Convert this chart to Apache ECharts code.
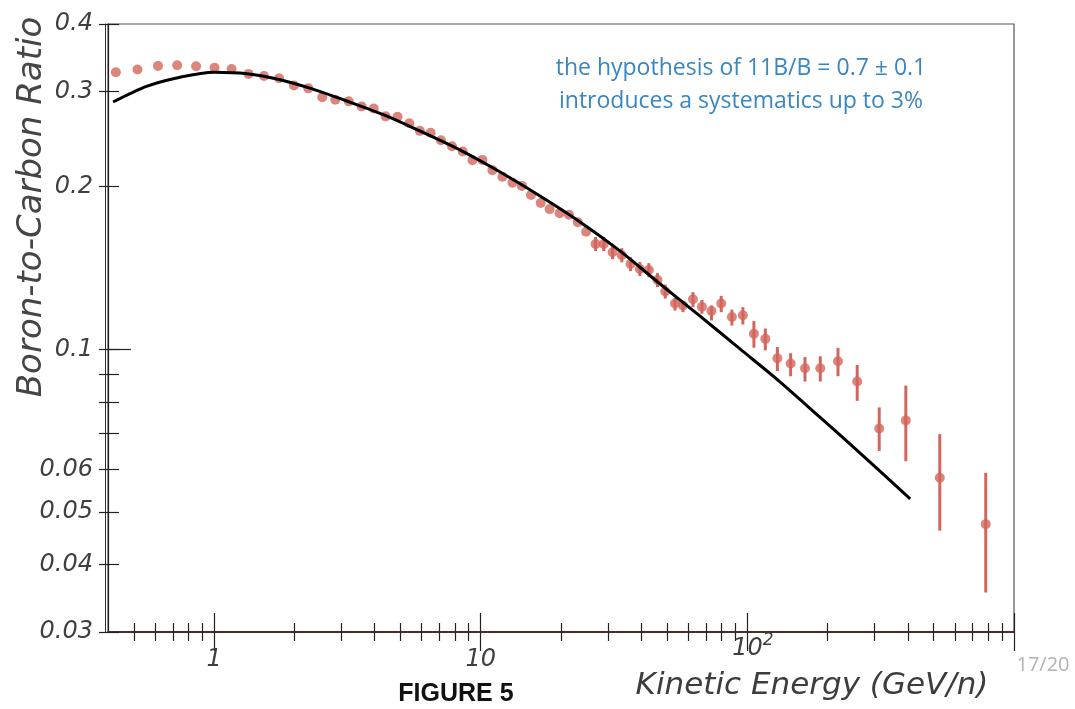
<!DOCTYPE html>
<html><head><meta charset="utf-8">
<script src="https://cdn.jsdelivr.net/npm/echarts@6/dist/echarts.min.js"></script>
<style>html,body{margin:0;padding:0;background:#fff}#c{width:1075px;height:709px}</style>
</head><body><div id="c"></div>
<script>
// ---- data ----
const energy = [0.428,0.516,0.616,0.727,0.856,1.004,1.163,1.346,1.539,1.752,
  1.993,2.256,2.545,2.847,3.198,3.577,3.967,4.400,4.875,5.398,
  5.909,6.486,7.095,7.801,8.563,9.310,10.15,11.06,12.06,13.15,
  14.27,15.43,16.78,18.13,19.77,21.42,23.12,24.84,26.96,28.93,
  31.22,33.82,36.46,39.51,42.69,46.03,49.22,53.53,57.33,62.51,
  67.54,73.33,79.79,87.50,96.18,105.8,116.8,129.6,145.3,164.5,
  187.7,218.7,258.2,312.2,392.9,526.8,783.4];
const ratio = [0.3257,0.3295,0.3346,0.3356,0.3342,0.3320,0.3302,0.3234,0.3206,0.3175,
  0.3078,0.3041,0.2927,0.2896,0.2877,0.2814,0.2790,0.2699,0.2694,0.2620,
  0.2537,0.2516,0.2438,0.2376,0.2324,0.2239,0.2242,0.2146,0.2087,0.2035,
  0.2007,0.1930,0.1866,0.1818,0.1787,0.1775,0.1719,0.1651,0.1567,0.1567,
  0.1513,0.1494,0.1439,0.1409,0.1402,0.1344,0.1280,0.1216,0.1206,0.1238,
  0.1199,0.1178,0.1216,0.1148,0.1157,0.1069,0.1046,0.0963,0.0942,0.0923,
  0.0923,0.0951,0.0872,0.0714,0.0739,0.0579,0.0475];
const errLow = [null,null,null,null,null,null,null,null,null,null,
  null,null,null,null,null,null,null,null,null,null,
  null,null,null,null,null,null,null,null,null,null,
  null,null,null,null,null,null,null,null,0.1520,0.1520,
  0.1468,0.1449,0.1396,0.1367,0.1360,0.1304,0.1242,0.1180,0.1172,0.1197,
  0.1164,0.1131,0.1172,0.1107,0.1112,0.1007,0.0996,0.0912,0.0892,0.0872,
  0.0872,0.0892,0.0803,0.0649,0.0621,0.0462,0.0355];
const errHigh = [null,null,null,null,null,null,null,null,null,null,
  null,null,null,null,null,null,null,null,null,null,
  null,null,null,null,null,null,null,null,null,null,
  null,null,null,null,null,null,null,null,0.1614,0.1614,
  0.1558,0.1539,0.1482,0.1451,0.1444,0.1384,0.1318,0.1245,0.1228,0.1276,
  0.1235,0.1206,0.1256,0.1185,0.1197,0.1128,0.1093,0.1010,0.0984,0.0968,
  0.0971,0.1007,0.0936,0.0781,0.0857,0.0697,0.0591];
const modelEnergy = [0.418,0.561,0.746,1.0,1.329,1.767,2.349,3.149,4.446,5.909,8.344,
  11.78,16.63,23.49,33.17,46.83,66.12,93.33,131.8,186.1,262.8,407.9];
const modelRatio = [0.2869,0.3070,0.3189,0.3257,0.3236,0.3155,0.3031,0.2881,0.2702,0.2536,0.2339,
  0.2131,0.1924,0.1723,0.1523,0.1324,0.1155,0.1004,0.0873,0.0751,0.0645,0.0529];

const xMajorTicks = [1, 10, 100, 1000];
const xMinorTicks = [0.5,0.6,0.7,0.8,0.9, 2,3,4,5,6,7,8,9, 20,30,40,50,60,70,80,90, 200,300,400,500,600,700,800,900];
const xLabelValues = [1, 10];
const xLabelTexts = ['1', '10'];
const xPowLabelValues = [100];
const xPowLabelBase = ['10'];
const xPowLabelExp = ['2'];
const yLabelValues = [0.03, 0.04, 0.05, 0.06, 0.1, 0.2, 0.3, 0.4];
const yLabelTexts = ['0.03', '0.04', '0.05', '0.06', '0.1', '0.2', '0.3', '0.4'];
const yMinorTicks = [0.07, 0.08, 0.09];
const yLongTicks = [0.1];

const xTitle = 'Kinetic Energy (GeV/n)';
const yTitle = 'Boron-to-Carbon Ratio';
const noteLines = ['the hypothesis of 11B/B = 0.7 \u00b1 0.1', 'introduces a systematics up to 3%'];
const figureLabel = 'FIGURE 5';
const pageLabel = '17/20';

// ---- chart ----
const AX_FONT = '"DejaVu Sans"';
const AX_COLOR = '#3f3f3f';
const DOT = '#d3665c';
function lookup(vals, texts, v) {
  for (let i = 0; i < vals.length; i++) if (Math.abs(v - vals[i]) / vals[i] < 1e-6) return texts[i];
  return '';
}
const xBase = { type: 'log', logBase: 10, min: 0.4, max: 1000, gridIndex: 0, splitLine: { show: false }, position: 'bottom' };
const yBase = { type: 'log', logBase: 10, min: 0.03, max: 0.4, gridIndex: 0, splitLine: { show: false }, position: 'left' };
const noLine = { show: false };
const tickLine = { color: '#222', width: 1.2 };

const chart = echarts.init(document.getElementById('c'), null, { renderer: 'canvas' });
const option = {
  animation: false,
  backgroundColor: '#fff',
  grid: { left: 108, top: 24, width: 906, height: 608, show: true, borderColor: '#555', borderWidth: 1.2, backgroundColor: 'transparent' },
  xAxis: [
    Object.assign({}, xBase, { axisLine: { show: true, lineStyle: { color: '#4a2e2e', width: 1.8 } },
      axisTick: { show: true, inside: false, length: 9, lineStyle: tickLine, customValues: xMinorTicks },
      axisLabel: { show: false } }),
    Object.assign({}, xBase, { axisLine: noLine,
      axisTick: { show: true, inside: true, length: 9, lineStyle: tickLine, customValues: xMinorTicks },
      axisLabel: { show: false } }),
    Object.assign({}, xBase, { axisLine: noLine,
      axisTick: { show: true, inside: false, length: 19, lineStyle: tickLine, customValues: xMajorTicks },
      axisLabel: { show: true, customValues: xLabelValues, margin: 16, color: AX_COLOR,
        fontFamily: AX_FONT, fontStyle: 'italic', fontSize: 24,
        formatter: v => lookup(xLabelValues, xLabelTexts, v) } }),
    Object.assign({}, xBase, { axisLine: noLine,
      axisTick: { show: true, inside: true, length: 19, lineStyle: tickLine, customValues: xMajorTicks },
      axisLabel: { show: true, customValues: xPowLabelValues, margin: 0, color: AX_COLOR,
        formatter: v => '{b|' + lookup(xPowLabelValues, xPowLabelBase, v) + '}{e|' + lookup(xPowLabelValues, xPowLabelExp, v) + '}',
        rich: {
          b: { fontFamily: AX_FONT, fontStyle: 'italic', fontSize: 24, color: AX_COLOR, lineHeight: 34, padding: [0, 0, 0, 11] },
          e: { fontFamily: AX_FONT, fontStyle: 'italic', fontSize: 17, color: AX_COLOR, lineHeight: 18, verticalAlign: 'top' }
        } } })
  ],
  yAxis: [
    Object.assign({}, yBase, { axisLine: { show: true, lineStyle: { color: '#222', width: 1.2 } },
      axisTick: { show: true, inside: false, length: 9, lineStyle: tickLine, customValues: yLabelValues.concat(yMinorTicks) },
      axisLabel: { show: true, customValues: yLabelValues, margin: 15, color: AX_COLOR,
        fontFamily: AX_FONT, fontStyle: 'italic', fontSize: 24,
        formatter: v => lookup(yLabelValues, yLabelTexts, v) } }),
    Object.assign({}, yBase, { axisLine: noLine,
      axisTick: { show: true, inside: true, length: 11, lineStyle: tickLine, customValues: yLabelValues.concat(yMinorTicks) },
      axisLabel: { show: false } }),
    Object.assign({}, yBase, { axisLine: noLine,
      axisTick: { show: true, inside: true, length: 23, lineStyle: tickLine, customValues: yLongTicks },
      axisLabel: { show: false } }),
    Object.assign({}, yBase, { offset: 3, axisLine: { show: true, lineStyle: { color: '#333', width: 1 } },
      axisTick: { show: false }, axisLabel: { show: false } })
  ],
  series: [
    {
      type: 'custom', xAxisIndex: 0, yAxisIndex: 0, z: 2,
      data: energy.map((e, i) => [e, errLow[i], errHigh[i]]).filter(d => d[1] !== null),
      renderItem: function (params, api) {
        const a = api.coord([api.value(0), api.value(1)]);
        const b = api.coord([api.value(0), api.value(2)]);
        return { type: 'line', shape: { x1: a[0], y1: a[1], x2: b[0], y2: b[1] },
          style: { stroke: DOT, lineWidth: 3 } };
      }
    },
    {
      type: 'scatter', xAxisIndex: 0, yAxisIndex: 0, z: 3,
      symbol: 'circle', symbolSize: 10,
      itemStyle: { color: DOT },
      data: energy.map((e, i) => [e, ratio[i]])
    },
    {
      type: 'line', xAxisIndex: 0, yAxisIndex: 0, z: 4,
      showSymbol: false, smooth: 0.3,
      lineStyle: { color: '#000', width: 3 },
      data: modelEnergy.map((e, i) => [e, modelRatio[i]])
    }
  ],
  graphic: [
    { type: 'text', x: 32, y: 207, rotation: Math.PI / 2,
      style: { text: yTitle, font: 'italic 34px "DejaVu Sans"', fill: '#454545', align: 'center', verticalAlign: 'middle' } },
    { type: 'text', x: 812, y: 686,
      style: { text: xTitle, font: 'italic 31px "DejaVu Sans"', fill: '#3d3d3d', align: 'center', verticalAlign: 'middle' } },
    { type: 'text', x: 456, y: 694,
      style: { text: figureLabel, font: 'bold 25px "Liberation Sans"', fill: '#111', align: 'center', verticalAlign: 'middle' } },
    { type: 'text', x: 1043, y: 665,
      style: { text: pageLabel, font: '20px "Open Sans"', fill: '#b3b3b3', align: 'center', verticalAlign: 'middle' } },
    { type: 'text', x: 741, y: 68,
      style: { text: noteLines[0], font: '23px "Open Sans"', fill: '#3a86c0', align: 'center', verticalAlign: 'middle' } },
    { type: 'text', x: 741, y: 101,
      style: { text: noteLines[1], font: '23px "Open Sans"', fill: '#3a86c0', align: 'center', verticalAlign: 'middle' } }
  ]
};
chart.setOption(option);
</script>
</body></html>
